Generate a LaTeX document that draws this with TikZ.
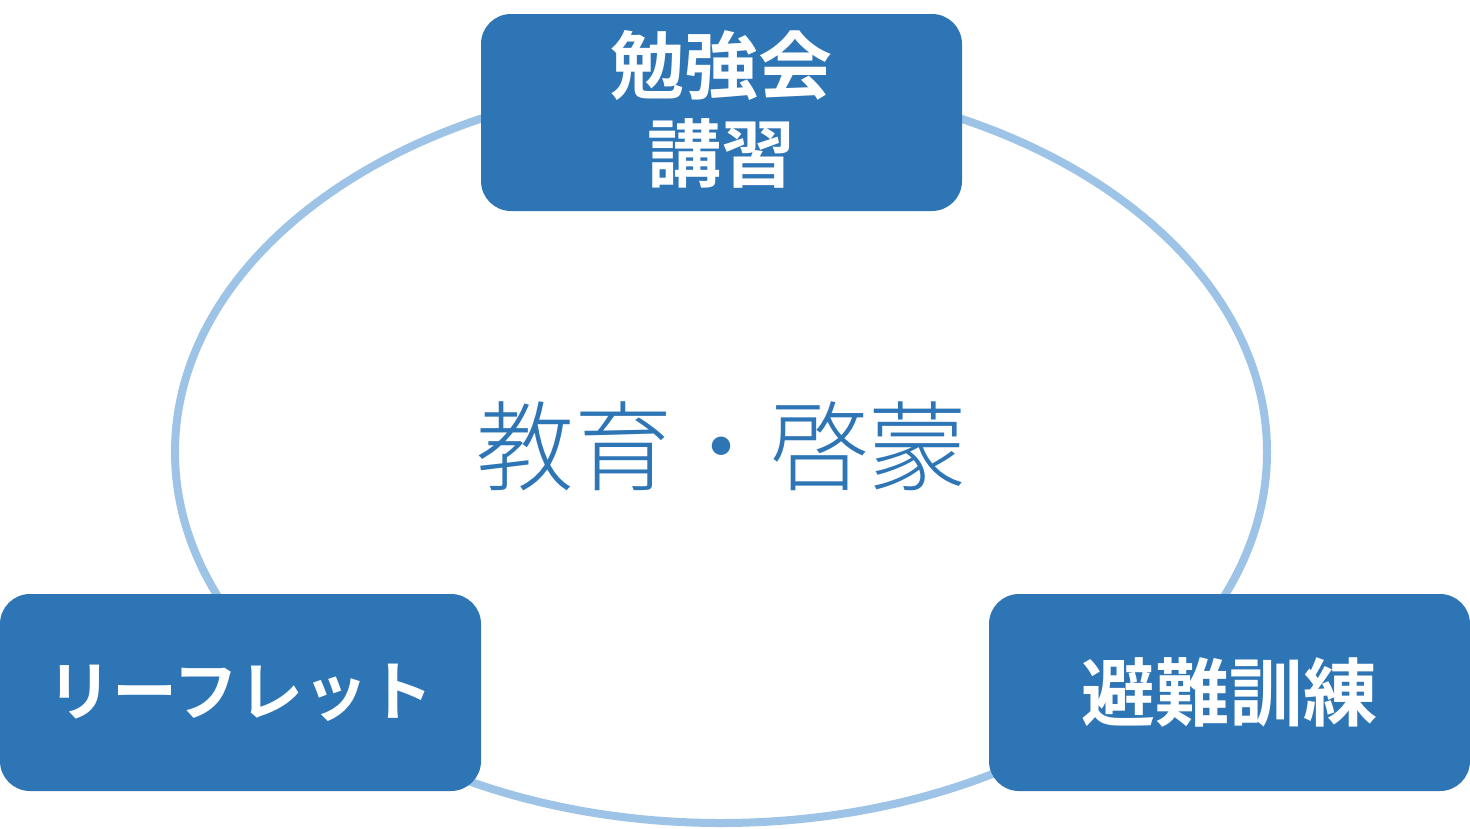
\documentclass[tikz,border=0pt]{standalone}
\usepackage{fontspec}
\setmainfont{Noto Sans CJK JP}[BoldFont={Noto Sans CJK JP Bold}]
\newfontfamily\lightcjk{Noto Sans CJK JP Light}
\definecolor{boxblue}{HTML}{2E75B6}
\definecolor{ringblue}{HTML}{9DC3E6}
\newcommand{\toplines}{\begin{tabular}{@{}c@{}}勉強会\\[-1pt]講習\end{tabular}}
\begin{document}
\begin{tikzpicture}[x=1pt,y=-1pt,
  box/.style={draw=none,fill=boxblue,rounded corners=30pt,minimum width=481pt,minimum height=197pt,
    inner sep=0pt,text=white,align=center},
  ring/.style={draw=ringblue,line width=8pt}]
\useasboundingbox (0,0) rectangle (1470,828);
\draw[ring] (721,452) ellipse [x radius=546, y radius=371];
\node[box,font=\bfseries\fontsize{74pt}{88pt}\selectfont] (top) at (721.5,112.5) {\vphantom{\toplines}\smash{\raisebox{-7pt}{\toplines}}};
\node[box,font=\bfseries\fontsize{65pt}{70pt}\selectfont] (left) at (240.5,692.5) {リーフレット};
\node[box,font=\bfseries\fontsize{74pt}{80pt}\selectfont] (right) at (1229.5,692.5) {避難訓練};
\node[text=boxblue,inner sep=0pt,font=\lightcjk\fontsize{98pt}{110pt}\selectfont] (center) at (721,446) {教育・啓蒙};
\end{tikzpicture}
\end{document}
